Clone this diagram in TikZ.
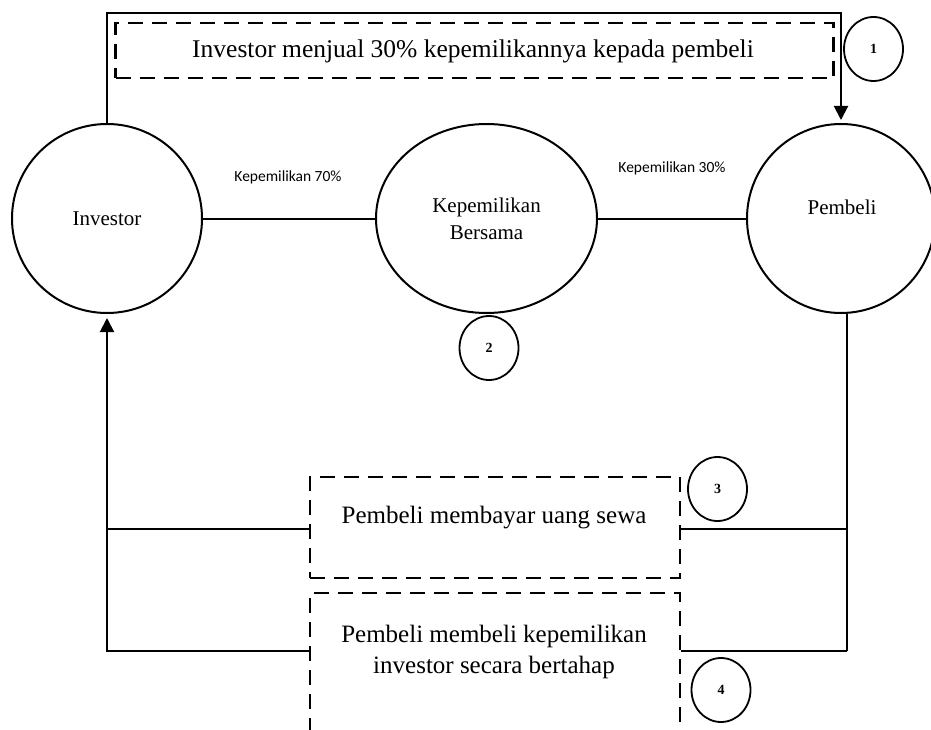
\documentclass[tikz,border=0pt]{standalone}
\usepackage{fontspec}
\setmainfont{Liberation Serif}
\newfontfamily\labelfont{Carlito}
\usetikzlibrary{shapes.geometric,arrows.meta,calc}
\begin{document}
\begin{tikzpicture}[x=1pt,y=-1pt,
  line width=2pt,
  party/.style={draw,ellipse,inner sep=0pt,line width=2pt,
    font=\fontsize{21}{27}\selectfont,align=center},
  numcircle/.style={draw,ellipse,inner sep=0pt,minimum width=59pt,
    minimum height=64pt,line width=1.8pt,font=\fontsize{14}{16}\selectfont\bfseries},
  stepbox/.style={draw,dash pattern=on 15pt off 9pt,line width=2.4pt,inner sep=0pt},
  steptext/.style={font=\fontsize{25}{31}\selectfont,align=center,inner sep=0pt},
  share/.style={font=\labelfont\fontsize{15.5}{18}\selectfont,inner sep=0pt},
  flow/.style={line width=2pt},
  tip/.style={-{Triangle[length=14pt,width=14pt]}}
]
\useasboundingbox (0,0) rectangle (931,730);

% parties and joint ownership
\node[party,minimum width=190pt,minimum height=189pt] (inv) at (107,218.5) {Investor};
\node[party,minimum width=221pt,minimum height=189pt] (kb) at (486.5,218.5) {Kepemilikan\\Bersama};
\node[party,minimum width=188pt,minimum height=189pt] (pb) at (841,218.5) {};
\node[font=\fontsize{21}{27}\selectfont,inner sep=0pt] (pbt) at (842,207) {Pembeli};

% ownership shares
\node[share] (l70) at (288,177) {Kepemilikan 70\%};
\node[share] (l30) at (672,168) {Kepemilikan 30\%};
\draw[flow] (inv.east) -- (kb.west);
\draw[flow] (kb.east) -- (pb.west);

% step boxes
\node[stepbox,minimum width=718pt,minimum height=55pt] (b1) at (474.5,50.5) {};
\node[steptext,font=\fontsize{25.5}{31}\selectfont] (t1) at (473,51) {Investor menjual 30\% kepemilikannya kepada pembeli};
\node[stepbox,minimum width=370pt,minimum height=101pt] (b3) at (495,527.5) {};
\node[steptext] (t3) at (494,518) {Pembeli membayar uang sewa};
\node[stepbox,minimum width=370pt,minimum height=167pt] (b4) at (495,676.5) {};
\node[steptext] (t4) at (494,651.5) {Pembeli membeli kepemilikan\\investor secara bertahap};

% step numbers
\node[numcircle] (n1) at (873.5,49) {1};
\node[numcircle] (n2) at (489,348) {2};
\node[numcircle] (n3) at (717.5,489) {3};
\node[numcircle] (n4) at (721,690) {4};

% step 1: sale from investor to buyer
\coordinate (topy) at (0,13);
\draw[flow,tip,shorten >=3pt] (inv.north) |- (topy -| pb.north) -- (pb.north);

% steps 3 and 4: payments from buyer back to investor
\coordinate (rm) at (847,529);
\coordinate (rb) at (847,651);
\coordinate (lm) at (107,529);
\coordinate (lb) at (107,651);
\draw[flow] (pb.south -| rb) -- (rb);
\draw[flow] (rm) -- (rm -| b3.east);
\draw[flow] (rb) -- (rb -| b4.east);
\draw[flow] (lm -| b3.west) -- (lm);
\draw[flow,tip,shorten >=4pt] (lb -| b4.west) -- (lb) -- (inv.south);
\end{tikzpicture}
\end{document}
